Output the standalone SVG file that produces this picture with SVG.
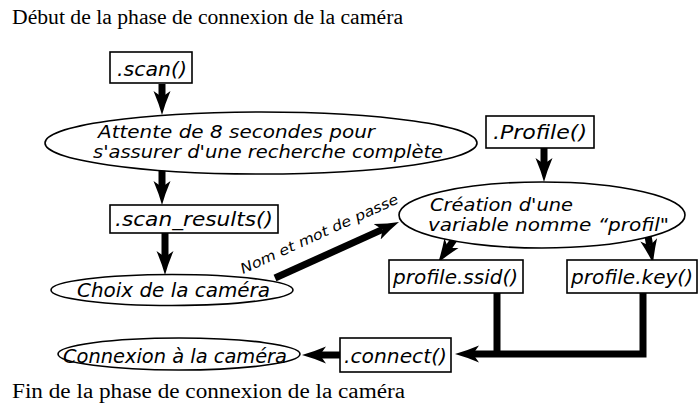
<svg xmlns="http://www.w3.org/2000/svg" width="699" height="414" viewBox="0 0 699 414">
  <style>
    .title { font-family: "Liberation Serif", "Times New Roman", serif; font-size: 20px; fill: #000; }
    .lbl { font-family: "DejaVu Sans", "Liberation Sans", sans-serif; font-style: italic; font-size: 19px; fill: #000; }
    .tight { font-size: 17px; }
    .small { font-family: "DejaVu Sans", "Liberation Sans", sans-serif; font-style: italic; font-size: 14px; fill: #000; }
    .box { fill: #fff; stroke: #000; stroke-width: 1.6; }
    .oval { fill: #fff; stroke: #000; stroke-width: 1.6; }
    .flow { fill: none; stroke: #000; stroke-width: 7; }
  </style>
  <defs>
    <marker id="head" viewBox="0 0 24 18" refX="6" refY="9" markerWidth="24" markerHeight="18" markerUnits="userSpaceOnUse" orient="auto">
      <path d="M0,0.5 Q13,6 24,9 Q13,12 0,17.5 L6,9 Z" fill="#000"/>
    </marker>
  </defs>

  <rect width="699" height="414" fill="#fff"/>

  <text class="title" x="12" y="24" textLength="391" lengthAdjust="spacingAndGlyphs">Début de la phase de connexion de la caméra</text>
  <text class="title" x="12" y="398" textLength="393" lengthAdjust="spacingAndGlyphs">Fin de la phase de connexion de la caméra</text>

  <g id="connectors">
    <line class="flow" x1="162" y1="84" x2="162" y2="97" marker-end="url(#head)"/>
    <line class="flow" x1="162" y1="164" x2="162" y2="187" marker-end="url(#head)"/>
    <line class="flow" x1="165" y1="233" x2="165" y2="257" marker-end="url(#head)"/>
    <line class="flow" x1="275" y1="278" x2="382.6" y2="229.4" marker-end="url(#head)"/>
    <text class="small" transform="translate(243,274) rotate(-24.5)" textLength="172" lengthAdjust="spacingAndGlyphs">Nom et mot de passe</text>
    <line class="flow" x1="544" y1="148" x2="544" y2="164" marker-end="url(#head)"/>
    <line class="flow" x1="457" y1="235" x2="448.1" y2="248.1" marker-end="url(#head)"/>
    <line class="flow" x1="648" y1="236" x2="649.8" y2="245.8" marker-end="url(#head)"/>
    <line class="flow" x1="497" y1="293" x2="497" y2="357"/>
    <path class="flow" d="M643,293 V354 H473" marker-end="url(#head)"/>
    <line class="flow" x1="340" y1="355" x2="320" y2="355" marker-end="url(#head)"/>
  </g>

  <g id="scan">
    <rect class="box" x="110" y="52" width="82" height="31"/>
    <text class="lbl" x="117" y="76" textLength="70" lengthAdjust="spacingAndGlyphs">.scan()</text>
  </g>

  <g id="attente">
    <ellipse class="oval" cx="261" cy="143" rx="216" ry="31"/>
    <text class="lbl tight" x="98" y="138" textLength="277" lengthAdjust="spacingAndGlyphs">Attente de 8 secondes pour</text>
    <text class="lbl tight" x="93" y="158" textLength="350" lengthAdjust="spacingAndGlyphs">s'assurer d'une recherche complète</text>
  </g>

  <g id="scan-results">
    <rect class="box" x="110" y="205" width="168" height="28"/>
    <text class="lbl" x="115" y="226" textLength="158" lengthAdjust="spacingAndGlyphs">.scan_results()</text>
  </g>

  <g id="choix">
    <ellipse class="oval" cx="172" cy="290" rx="121" ry="15.5"/>
    <text class="lbl" x="77" y="297" textLength="193" lengthAdjust="spacingAndGlyphs">Choix de la caméra</text>
  </g>

  <g id="profile">
    <rect class="box" x="486" y="116" width="108" height="32"/>
    <text class="lbl" x="493" y="139" textLength="94" lengthAdjust="spacingAndGlyphs">.Profile()</text>
  </g>

  <g id="creation">
    <ellipse class="oval" cx="542" cy="215" rx="143" ry="33"/>
    <text class="lbl tight" x="430" y="211" textLength="143" lengthAdjust="spacingAndGlyphs">Création d'une</text>
    <text class="lbl tight" x="428" y="231" textLength="241" lengthAdjust="spacingAndGlyphs">variable nomme “profil"</text>
  </g>

  <g id="ssid">
    <rect class="box" x="389" y="260" width="134" height="33"/>
    <text class="lbl" x="393" y="284" textLength="125" lengthAdjust="spacingAndGlyphs">profile.ssid()</text>
  </g>

  <g id="key">
    <rect class="box" x="567" y="260" width="130" height="33"/>
    <text class="lbl" x="571" y="284" textLength="122" lengthAdjust="spacingAndGlyphs">profile.key()</text>
  </g>

  <g id="connect">
    <rect class="box" x="340" y="338" width="111" height="34"/>
    <text class="lbl" x="344" y="363" textLength="103" lengthAdjust="spacingAndGlyphs">.connect()</text>
  </g>

  <g id="connexion">
    <ellipse class="oval" cx="179" cy="354" rx="121" ry="16"/>
    <text class="lbl" x="63" y="363" textLength="224" lengthAdjust="spacingAndGlyphs">Connexion à la caméra</text>
  </g>
</svg>
